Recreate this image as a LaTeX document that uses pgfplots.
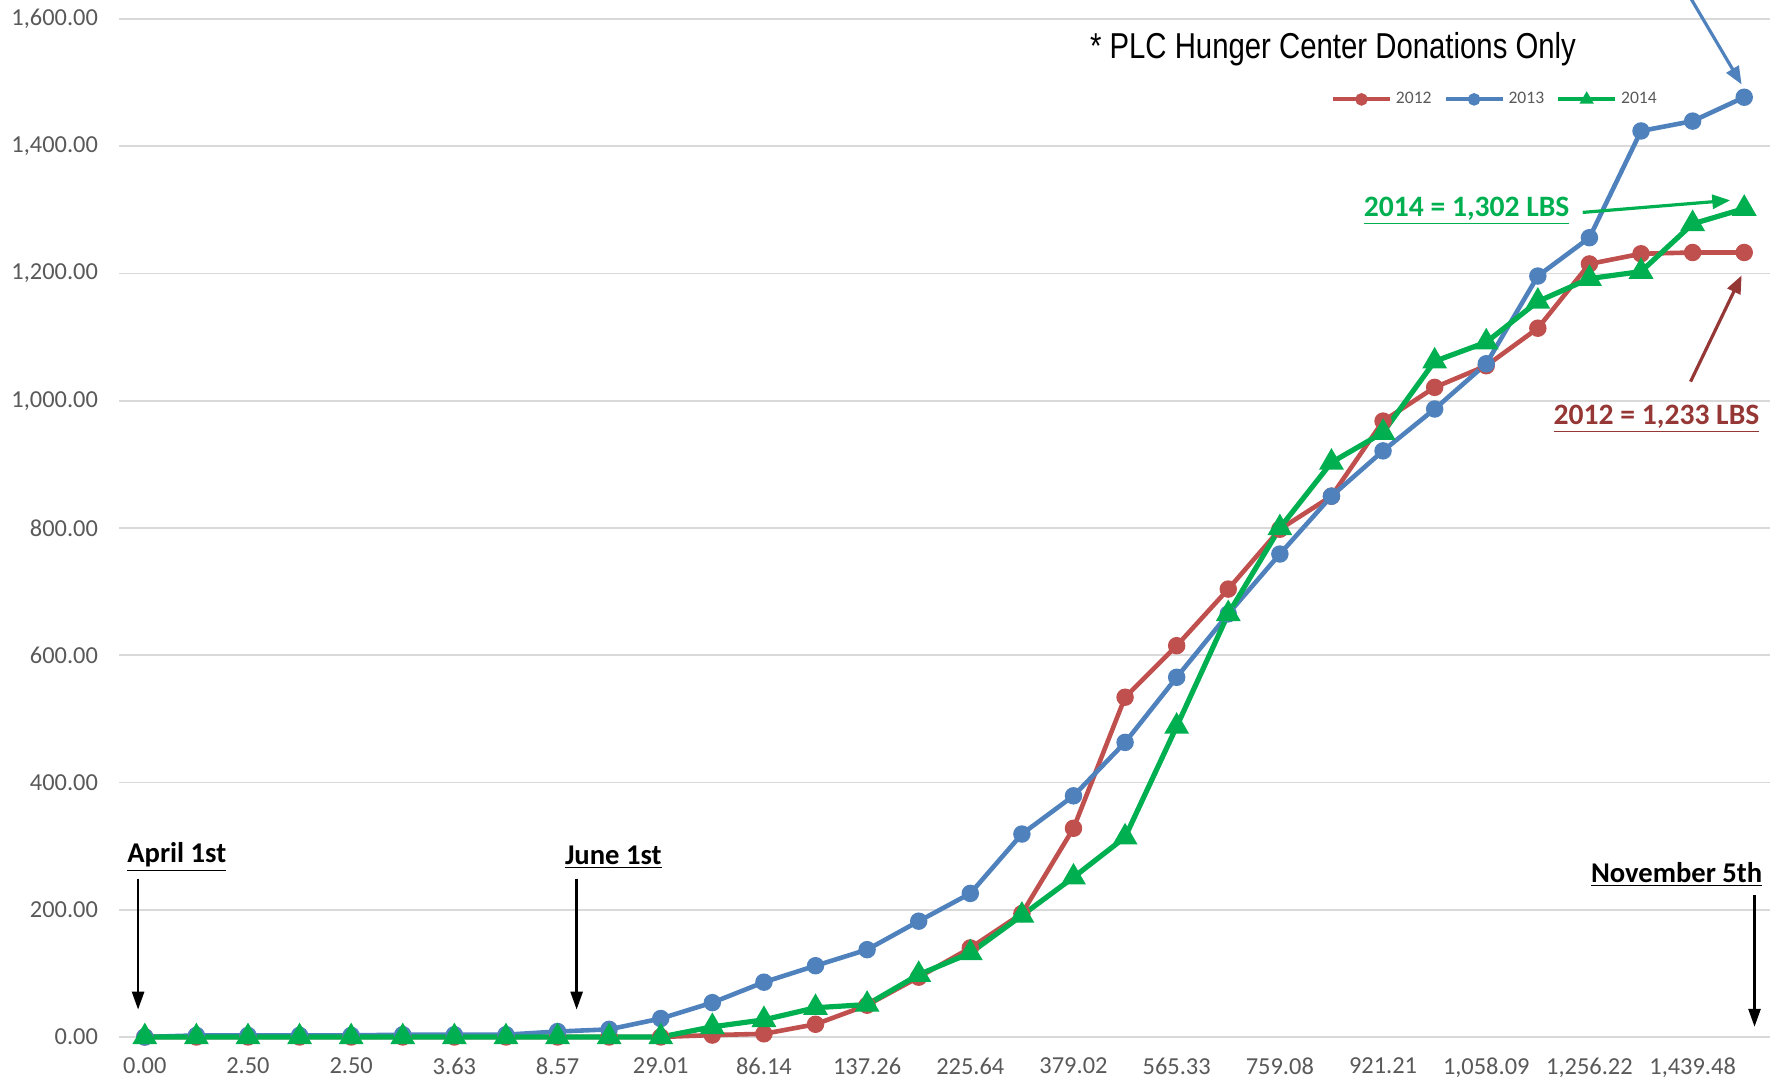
\documentclass[border=0pt]{standalone}
\usepackage{pgfplots}
\pgfplotsset{compat=1.18}
\usepackage{fontspec}
\setmainfont{Carlito}
\newfontfamily\narrowfont[FakeStretch=0.815]{Liberation Sans}
\usetikzlibrary{arrows.meta}
\definecolor{cRed}{HTML}{C0504D}
\definecolor{cBlue}{HTML}{4F81BD}
\definecolor{cGreen}{HTML}{00B050}
\definecolor{cDark}{HTML}{953735}
\definecolor{cTick}{HTML}{595959}
\definecolor{cGrid}{HTML}{D9D9D9}
\newcommand\ul[1]{\underline{#1}}
\begin{document}
\begin{tikzpicture}
\useasboundingbox (-59.5pt,-21.5pt) rectangle (829pt,518.5pt);
\begin{axis}[
  scale only axis,
  width=825.5pt, height=509pt,
  xmin=-0.5, xmax=31.5, ymin=0, ymax=1600,
  clip=false,
  axis line style={draw=none},
  major tick length=0pt,
  ytick={0,200,...,1600},
  ymajorgrids,
  grid style={cGrid, line width=0.8pt},
  xtick={0,2,...,30},
  xticklabels={0.00,2.50,2.50,3.63,8.57,29.01,86.14,137.26,225.64,379.02,565.33,759.08,921.21,{1,058.09},{1,256.22},{1,439.48}},
  /pgf/number format/assume math mode=true,
  yticklabel style={/pgf/number format/fixed, /pgf/number format/fixed zerofill, /pgf/number format/precision=2, /pgf/number format/1000 sep={,}, xshift=-7pt},
  tick label style={font=\fontsize{12.2}{14}\selectfont, text=cTick},
  xticklabel style={yshift=-7pt},
  legend columns=3,
  legend style={draw=none, fill=none, font=\fontsize{8.8}{10}\selectfont, text=cTick, at={(0.834,0.921)}, anchor=center, /tikz/every even column/.append style={column sep=4pt}},
  legend image code/.code={\draw[mark size=2.1pt, line width=2pt, mark repeat=2,mark phase=2] plot coordinates {(0cm,0cm) (0.5cm,0cm) (1cm,0cm)};},
]
\addplot[cRed, line width=2.3pt, mark=*, mark size=3.2pt] coordinates {
(0,0) (1,0) (2,0) (3,0) (4,0) (5,0) (6,0) (7,0) (8,0) (9,0) (10,0)
(11,3) (12,5) (13,20) (14,50) (15,94) (16,140) (17,194) (18,328) (19,534)
(20,615) (21,704) (22,798) (23,850) (24,968) (25,1021) (26,1055) (27,1114)
(28,1215) (29,1231) (30,1233) (31,1233)};
\addlegendentry{2012}
\addplot[cBlue, line width=2.3pt, mark=*, mark size=3.2pt] coordinates {
(0,0) (1,2.5) (2,2.5) (3,2.5) (4,2.5) (5,3.63) (6,3.63) (7,3.63) (8,8.57) (9,12)
(10,29.01) (11,54) (12,86.14) (13,112) (14,137.26) (15,182) (16,225.64) (17,319)
(18,379.02) (19,463) (20,565.33) (21,665) (22,759.08) (23,850) (24,921.21)
(25,987) (26,1058.09) (27,1196) (28,1256.22) (29,1424) (30,1439.48) (31,1477)};
\addlegendentry{2013}
\addplot[cGreen, line width=2.6pt, mark=triangle*, mark size=4.6pt] coordinates {
(0,0) (1,0) (2,0) (3,0) (4,0) (5,0) (6,0) (7,0) (8,0) (9,0) (10,0)
(11,16) (12,27) (13,46) (14,51) (15,98) (16,132) (17,191) (18,251) (19,314)
(20,488) (21,665) (22,800) (23,903) (24,950) (25,1062) (26,1092) (27,1156)
(28,1192) (29,1203) (30,1278) (31,1302)};
\addlegendentry{2014}
% annotations
\node[font=\narrowfont\fontsize{18}{20}\selectfont] at (axis cs:23.03,1553) {* PLC Hunger Center Donations Only};
\node[font=\bfseries\fontsize{14.3}{16}\selectfont] at (axis cs:0.62,283) {\ul{April 1st}};
\node[font=\bfseries\fontsize{14.3}{16}\selectfont] at (axis cs:9.08,283) {\ul{June 1st}};
\node[font=\bfseries\fontsize{14.3}{16}\selectfont] at (axis cs:29.69,255) {\ul{November 5th}};
\node[font=\bfseries\fontsize{14.8}{16}\selectfont, text=cGreen] at (axis cs:25.62,1298) {\ul{2014 = 1,302 LBS}};
\node[font=\bfseries\fontsize{14.8}{16}\selectfont, text=cDark] at (axis cs:29.3,972) {\ul{2012 = 1,233 LBS}};
\draw[black, line width=1.3pt, -{Triangle[width=6pt,length=9pt]}] (axis cs:-0.13,249) -- (axis cs:-0.13,43);
\draw[black, line width=1.3pt, -{Triangle[width=6pt,length=9pt]}] (axis cs:8.37,249) -- (axis cs:8.37,43);
\draw[black, line width=1.3pt, -{Triangle[width=6pt,length=9pt]}] (axis cs:31.2,223) -- (axis cs:31.2,16);
\draw[cGreen, line width=1.6pt, -{Triangle[width=7pt,length=9pt]}] (axis cs:27.87,1296) -- (axis cs:30.73,1315);
\draw[cDark, line width=1.6pt, -{Triangle[width=7pt,length=9pt]}] (axis cs:29.96,1030) -- (axis cs:30.95,1197);
\draw[cBlue, line width=1.6pt, -{Triangle[width=7pt,length=9pt]}] (axis cs:29.4,1710) -- (axis cs:30.95,1497);
\end{axis}
\end{tikzpicture}
\end{document}
